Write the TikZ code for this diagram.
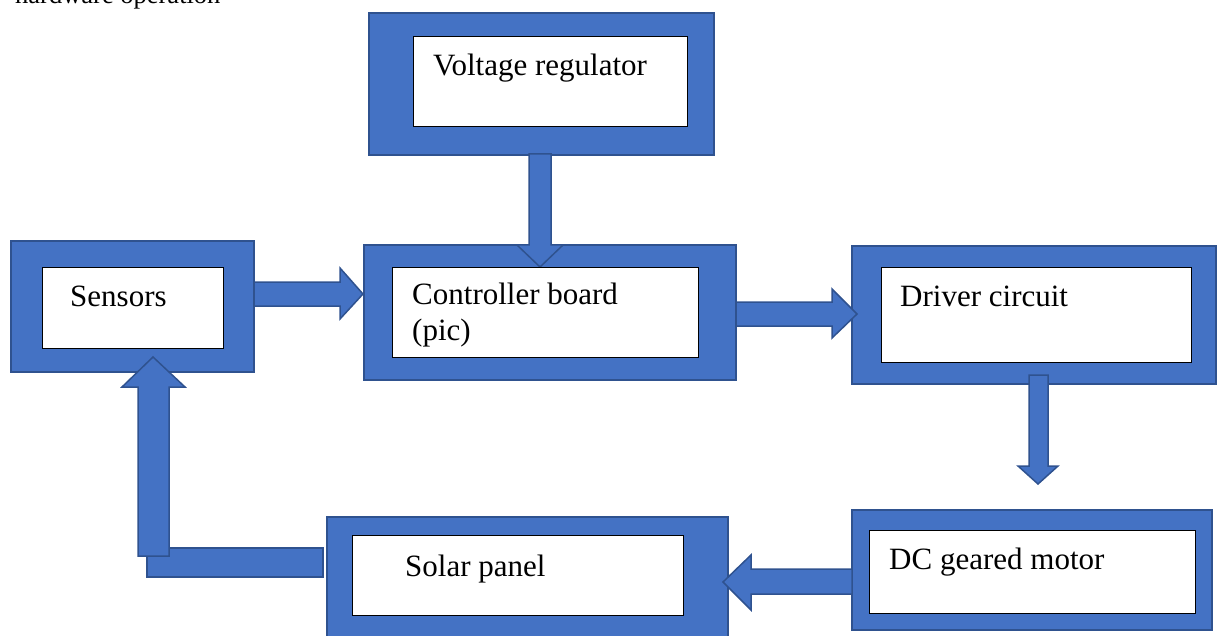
\documentclass[tikz,border=0pt]{standalone}
\usepackage{fontspec}
\setmainfont{Liberation Serif}
\definecolor{boxblue}{HTML}{4472C4}
\definecolor{edgeblue}{HTML}{2F528F}
\tikzset{
  outerbox/.style={draw=edgeblue, fill=boxblue, line width=1.5pt, anchor=north west, inner sep=0pt, outer sep=0pt},
  innerbox/.style={draw=black, fill=white, line width=1pt, anchor=north west, inner sep=0pt, outer sep=0pt},
  lbl/.style={anchor=base west, inner sep=0pt, font=\fontsize{31}{36}\selectfont},
  blockarrow/.style={draw=edgeblue, fill=boxblue, line width=1.5pt, line join=miter},
}
\begin{document}
\begin{tikzpicture}[x=1pt,y=-1pt]
\useasboundingbox (0,0) rectangle (1217,636);
% title (cut off at the top)
\node[anchor=base west, inner sep=0pt, font=\fontsize{26.5}{30}\selectfont] (title) at (15,3.5) {hardware operation};
% outer boxes
\node[outerbox, minimum width=345pt, minimum height=142pt] (vro) at (369,13) {};
\node[outerbox, minimum width=372pt, minimum height=135pt] (cto) at (364,245) {};
\node[outerbox, minimum width=243pt, minimum height=131pt] (seo) at (11,241) {};
\node[outerbox, minimum width=364pt, minimum height=138pt] (dro) at (852,246) {};
\node[outerbox, minimum width=360pt, minimum height=120pt] (moo) at (852,510) {};
\node[outerbox, minimum width=401pt, minimum height=140pt] (soo) at (327,517) {};
% block arrows
% voltage regulator -> controller
\draw[blockarrow] (529,154) -- (551,154) -- (551,245) -- (563,245) -- (540,267) -- (517,245) -- (529,245) -- cycle;
% sensors -> controller
\draw[blockarrow] (254,282) -- (340,282) -- (340,268) -- (363,294) -- (340,319) -- (340,306) -- (254,306) -- cycle;
% controller -> driver
\draw[blockarrow] (736,302) -- (832,302) -- (832,289) -- (857,314) -- (832,338) -- (832,326) -- (736,326) -- cycle;
% driver -> motor
\draw[blockarrow] (1029,375) -- (1048,375) -- (1048,466) -- (1058,466) -- (1038,484) -- (1018,466) -- (1029,466) -- cycle;
% motor -> solar panel
\draw[blockarrow] (852,569) -- (751,569) -- (751,555) -- (723,582) -- (751,610) -- (751,594) -- (852,594) -- cycle;
% solar panel -> sensors (L-shaped)
\draw[blockarrow] (147,548) rectangle (323,577);
\draw[blockarrow] (138,556) -- (138,387) -- (122,387) -- (153,357) -- (185,387) -- (169,387) -- (169,556) -- cycle;
% inner boxes
\node[innerbox, minimum width=274pt, minimum height=90pt] (vri) at (413,37) {};
\node[innerbox, minimum width=306pt, minimum height=90pt] (cti) at (392,267) {};
\node[innerbox, minimum width=181pt, minimum height=81pt] (sei) at (42,267) {};
\node[innerbox, minimum width=310pt, minimum height=95pt] (dri) at (881,267) {};
\node[innerbox, minimum width=326pt, minimum height=83pt] (moi) at (869,530) {};
\node[innerbox, minimum width=331pt, minimum height=80pt] (soi) at (352,535) {};
% labels
\node[lbl] (vrt) at (433,76) {Voltage regulator};
\node[lbl] (ctt) at (412,304) {Controller board};
\node[lbl] (ctt2) at (412,340) {(pic)};
\node[lbl] (set) at (70,306) {Sensors};
\node[lbl] (drt) at (900,306) {Driver circuit};
\node[lbl] (mot) at (889,569) {DC geared motor};
\node[lbl] (sot) at (405,576) {Solar panel};
\end{tikzpicture}
\end{document}
